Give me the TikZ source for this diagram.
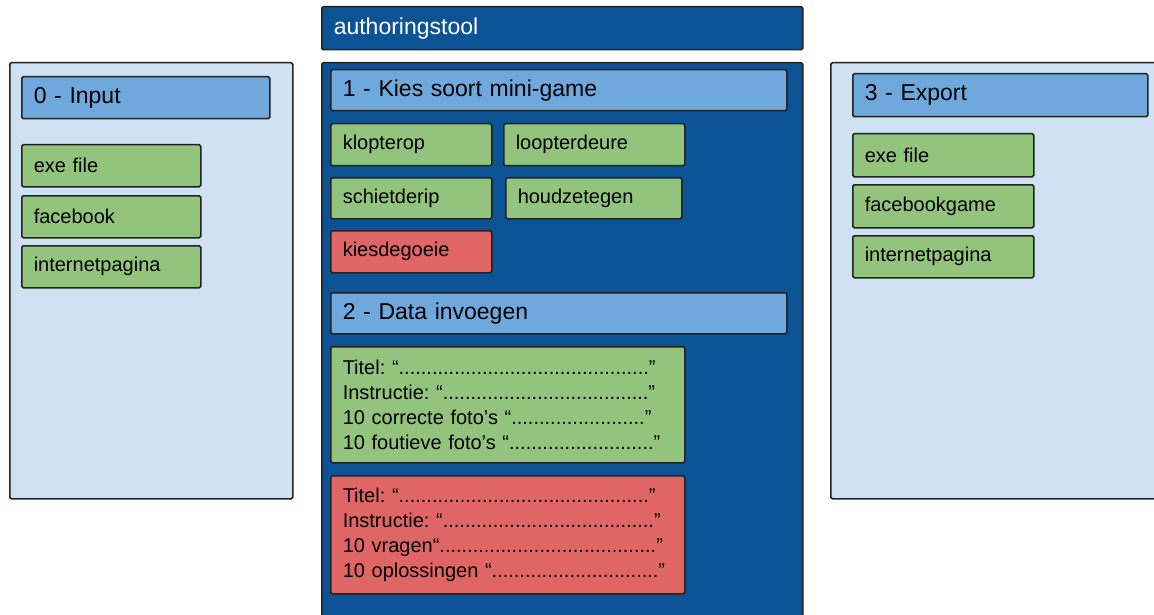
\documentclass[tikz,border=0pt]{standalone}
\usepackage{fontspec}
\setmainfont{Liberation Sans}
\frenchspacing

\definecolor{panelblue}{HTML}{CFE2F3}
\definecolor{headblue}{HTML}{6FA8DC}
\definecolor{darkblue}{HTML}{0B5394}
\definecolor{itemgreen}{HTML}{93C47D}
\definecolor{itemred}{HTML}{E06666}
\definecolor{edge}{HTML}{222222}

% a row of n dots
\newcommand{\filldots}[1]{\foreach \n in {1,...,#1}{.}}

\begin{document}
\begin{tikzpicture}[x=1pt,y=-1pt,
  base/.style={draw=edge,line width=1.5pt,rounded corners=1.5pt,anchor=north west,
    inner xsep=12pt,inner ysep=0pt,align=left},
  panel/.style={base,fill=panelblue},
  head/.style={base,fill=headblue,text width=#1,font=\fontsize{23}{27}\selectfont},
  green item/.style={base,fill=itemgreen,text width=#1,font=\fontsize{20}{25}\selectfont},
  red item/.style={base,fill=itemred,text width=#1,font=\fontsize{20}{25}\selectfont}]

  \clip (0,0) rectangle (1154,615);

  % 0 - input
  \node[panel,minimum width=283pt,minimum height=436pt] (inpanel) at (9,62) {};
  \node[head=224pt,minimum height=42pt] (inhead) at (21,76) {0 - Input};
  \node[green item=155pt,minimum height=42pt] (inexe) at (21,144) {exe file};
  \node[green item=155pt,minimum height=42pt] (infb) at (21,195) {facebook};
  \node[green item=155pt,minimum height=42pt] (inweb) at (21,245) {internetpagina};

  % authoringstool
  \node[base,fill=darkblue,text=white,text width=457pt,minimum height=43pt,
    font=\fontsize{23}{27}\selectfont] (tool) at (321,6) {authoringstool};
  \node[base,fill=darkblue,minimum width=481pt,minimum height=600pt] (toolpanel) at (321,62) {};

  \node[head=432pt,minimum height=41pt] (kies) at (330,69) {1 - Kies soort mini-game};
  \node[green item=137pt,minimum height=42pt] (klop) at (330,123) {klopterop};
  \node[green item=157pt,minimum height=42pt] (loop) at (503,123) {loopterdeure};
  \node[green item=137pt,minimum height=41pt] (schiet) at (330,177) {schietderip};
  \node[green item=152pt,minimum height=41pt] (houd) at (505,177) {houdzetegen};
  \node[red item=137pt,minimum height=42pt] (goeie) at (330,230) {kiesdegoeie};

  \node[head=432pt,minimum height=41pt] (data) at (330,292) {2 - Data invoegen};
  \node[green item=330pt,minimum height=116pt] (greendata) at (330,346)
    {Titel: “\filldots{45}”\\
     Instructie: “\filldots{37}”\\
     10 correcte foto’s “\filldots{24}”\\
     10 foutieve foto’s “\filldots{26}”};
  \node[red item=330pt,minimum height=118pt] (reddata) at (330,475)
    {Titel: “\filldots{45}”\\
     Instructie: “\filldots{38}”\\
     10 vragen“\filldots{39}”\\
     10 oplossingen “\filldots{30}”};

  % 3 - export
  \node[panel,minimum width=340pt,minimum height=436pt] (outpanel) at (830,62) {};
  \node[head=271pt,minimum height=43pt] (outhead) at (852,73) {3 - Export};
  \node[green item=157pt,minimum height=43pt] (outexe) at (852,133) {exe file};
  \node[green item=157pt,minimum height=43pt] (outfb) at (852,184) {facebookgame};
  \node[green item=157pt,minimum height=42pt] (outweb) at (852,235) {internetpagina};
\end{tikzpicture}
\end{document}
